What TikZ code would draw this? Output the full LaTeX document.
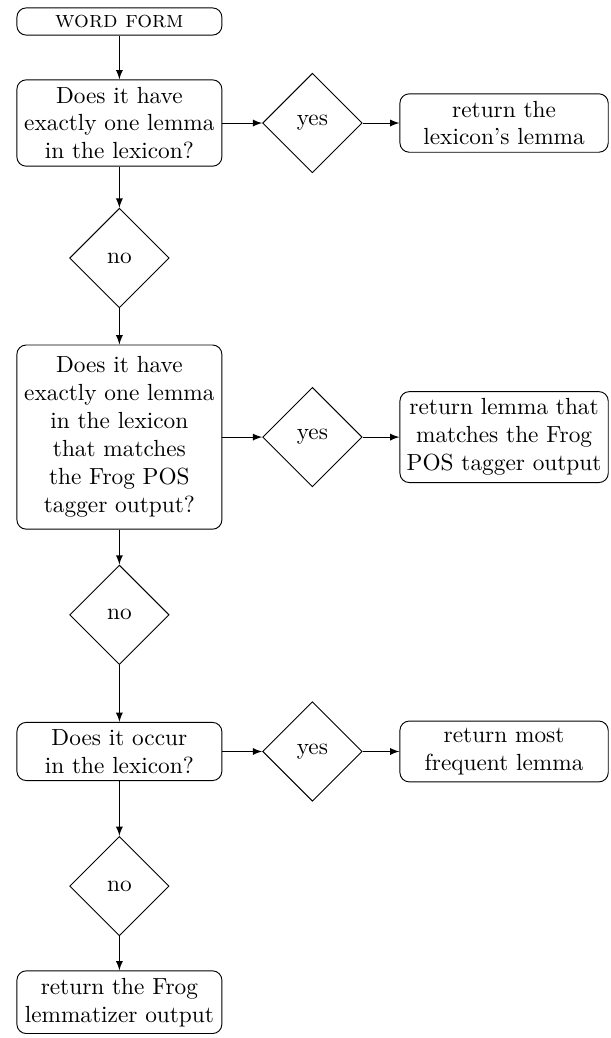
\documentclass[tikz,border=0pt]{standalone}
\usetikzlibrary{shapes.geometric}
\newcommand{\nohyph}{\hyphenpenalty=10000\relax}
\tikzset{
  stepbox/.style={draw,rounded corners=4pt,text width=2.95cm,align=center,inner xsep=2pt,inner ysep=3pt,
    execute at begin node=\nohyph},
  answer/.style={draw,diamond,aspect=1,minimum size=1.5cm,inner sep=0pt},
}
\begin{document}
\begin{tikzpicture}[>=latex]
	\useasboundingbox (0,0) rectangle (9.2,-15.65);
	% main column
	\node [stepbox,minimum height=0.41cm] (wordform) at (1.80,-0.324) {\textsc{word form}};
	\node [stepbox] (qone) at (1.80,-1.855) {Does it have\\exactly one lemma\\in the lexicon?};
	\node [answer] (noone) at (1.80,-3.89) {no};
	\node [stepbox,inner ysep=5pt] (qtwo) at (1.80,-6.59) {Does it have\\exactly one lemma\\in the lexicon\\that matches\\the Frog POS\\tagger output?};
	\node [answer] (notwo) at (1.80,-9.27) {no};
	\node [stepbox] (qthree) at (1.80,-11.33) {Does it occur\\in the lexicon?};
	\node [answer] (nothree) at (1.80,-13.36) {no};
	\node [stepbox] (frog) at (1.80,-15.11) {return the Frog\\lemmatizer output};
	% yes branches
	\node [answer] (yesone) at (4.71,-1.855) {yes};
	\node [answer] (yestwo) at (4.71,-6.59) {yes};
	\node [answer] (yesthree) at (4.71,-11.33) {yes};
	\node [stepbox,text width=3.0cm] (retone) at (7.60,-1.855) {return the\\lexicon's lemma};
	\node [stepbox,text width=3.0cm] (rettwo) at (7.60,-6.59) {return lemma that\\matches the Frog\\POS tagger output};
	\node [stepbox,text width=3.0cm] (retthree) at (7.60,-11.33) {return most\\frequent lemma};
	\draw [->] (wordform) -- (qone);
	\draw [->] (qone) -- (noone);
	\draw [->] (noone) -- (qtwo);
	\draw [->] (qtwo) -- (notwo);
	\draw [->] (notwo) -- (qthree);
	\draw [->] (qthree) -- (nothree);
	\draw [->] (nothree) -- (frog);
	\draw [->] (qone) -- (yesone);
	\draw [->] (yesone) -- (retone);
	\draw [->] (qtwo) -- (yestwo);
	\draw [->] (yestwo) -- (rettwo);
	\draw [->] (qthree) -- (yesthree);
	\draw [->] (yesthree) -- (retthree);
\end{tikzpicture}
\end{document}
